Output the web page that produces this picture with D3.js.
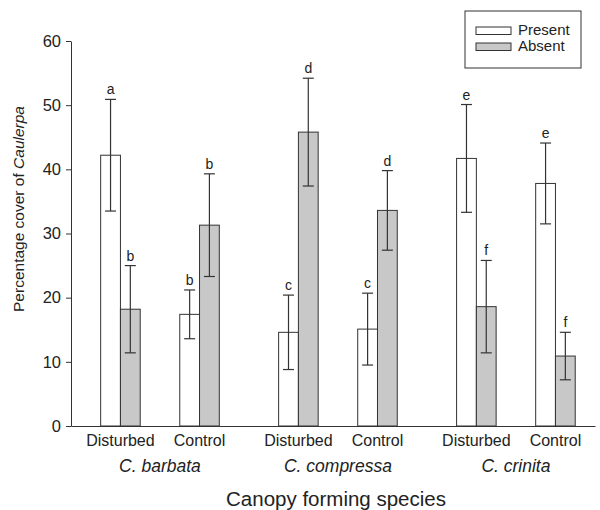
<!DOCTYPE html>
<html>
<head>
<meta charset="utf-8">
<script src="https://cdn.jsdelivr.net/npm/d3@7"></script>
<style>
  html, body { margin: 0; padding: 0; background: #fff; overflow: hidden; }
  svg { display: block; }
  svg text { font-family: "Liberation Sans", Arial, sans-serif; fill: #222; }
</style>
</head>
<body>
<svg id="chart"></svg>
<script>
const species = ["C. barbata", "C. compressa", "C. crinita"];
const treatments = ["Disturbed", "Control"];
const canopy = ["Present", "Absent"];

// one value per species x treatment, in order
const presentMean = [42.2, 17.4, 14.6, 15.1, 41.7, 37.8];
const presentErr = [8.7, 3.8, 5.8, 5.6, 8.4, 6.3];
const presentLetter = ["a", "b", "c", "c", "e", "e"];
const absentMean = [18.2, 31.3, 45.8, 33.6, 18.6, 10.9];
const absentErr = [6.8, 8.0, 8.4, 6.2, 7.2, 3.7];
const absentLetter = ["b", "b", "d", "d", "f", "f"];

const yTicks = [0, 10, 20, 30, 40, 50, 60];

const width = 600, height = 510;
const margin = { top: 41, left: 71, bottom: 84, right: 5 };
const innerWidth = width - margin.left - margin.right;
const innerHeight = height - margin.top - margin.bottom;

const svg = d3.select("#chart").attr("width", width).attr("height", height);
const g = svg.append("g").attr("transform", `translate(${margin.left}, ${margin.top})`);

// group position: 4 units per treatment pair, 1 extra unit between species
const groups = [];
species.forEach((s, si) => {
  treatments.forEach((t, ti) => {
    const i = si * treatments.length + ti;
    groups.push({ species: s, treatment: t, pos: 2.5 + 4 * i + si, i });
  });
});

const x = d3.scaleLinear().domain([0, 26.5]).range([0, innerWidth]);
const y = d3.scaleLinear().domain([0, 60]).range([innerHeight, 0]);
const fill = d3.scaleOrdinal().domain(canopy).range(["#ffffff", "#c8c8c8"]);

// y axis
const yAxis = g.append("g")
  .call(d3.axisLeft(y).tickValues(yTicks).tickSize(5).tickSizeOuter(0).tickPadding(5));
yAxis.selectAll("text").style("font-size", "16.5px").attr("fill", "#222");
yAxis.selectAll("line, path").attr("stroke", "#333");

// x axis line only
const xAxis = g.append("g")
  .attr("transform", `translate(0, ${innerHeight})`)
  .call(d3.axisBottom(x).ticks(0).tickSizeOuter(0));
xAxis.select("path").attr("stroke", "#333");

// bars
const bars = [];
groups.forEach(d => {
  bars.push({ key: "Present", x0: d.pos - 1, mean: presentMean[d.i], err: presentErr[d.i], letter: presentLetter[d.i] });
  bars.push({ key: "Absent", x0: d.pos, mean: absentMean[d.i], err: absentErr[d.i], letter: absentLetter[d.i] });
});

g.selectAll(".bar")
  .data(bars)
  .join("rect")
  .attr("class", "bar")
  .attr("x", d => x(d.x0))
  .attr("y", d => y(d.mean))
  .attr("width", d => x(d.x0 + 1) - x(d.x0))
  .attr("height", d => y(0) - y(d.mean))
  .attr("fill", d => fill(d.key))
  .attr("stroke", "#333")
  .attr("stroke-width", 1);

// error bars
const capHalf = 5.5;
const eb = g.selectAll(".err").data(bars).join("g").attr("class", "err")
  .attr("stroke", "#333").attr("stroke-width", 1.2);
eb.append("line")
  .attr("x1", d => x(d.x0 + 0.5)).attr("x2", d => x(d.x0 + 0.5))
  .attr("y1", d => y(d.mean - d.err)).attr("y2", d => y(d.mean + d.err));
eb.append("line")
  .attr("x1", d => x(d.x0 + 0.5) - capHalf).attr("x2", d => x(d.x0 + 0.5) + capHalf)
  .attr("y1", d => y(d.mean + d.err)).attr("y2", d => y(d.mean + d.err));
eb.append("line")
  .attr("x1", d => x(d.x0 + 0.5) - capHalf).attr("x2", d => x(d.x0 + 0.5) + capHalf)
  .attr("y1", d => y(d.mean - d.err)).attr("y2", d => y(d.mean - d.err));

// significance letters
g.selectAll(".letter")
  .data(bars)
  .join("text")
  .attr("class", "letter")
  .attr("x", d => x(d.x0 + 0.5))
  .attr("y", d => y(d.mean + d.err) - 5)
  .attr("text-anchor", "middle")
  .style("font-size", "14px")
  .text(d => d.letter);

// treatment labels
g.selectAll(".treat")
  .data(groups)
  .join("text")
  .attr("class", "treat")
  .attr("x", d => x(d.pos))
  .attr("y", innerHeight + 20)
  .attr("text-anchor", "middle")
  .style("font-size", "16px")
  .text(d => d.treatment);

// species labels
g.selectAll(".species")
  .data(species)
  .join("text")
  .attr("class", "species")
  .attr("x", (s, si) => (x(groups[si * 2].pos) + x(groups[si * 2 + 1].pos)) / 2)
  .attr("y", innerHeight + 46)
  .attr("text-anchor", "middle")
  .style("font-size", "17.5px")
  .style("font-style", "italic")
  .text(s => s);

// axis titles
svg.append("text")
  .attr("x", 336)
  .attr("y", 506)
  .attr("text-anchor", "middle")
  .style("font-size", "20.5px")
  .text("Canopy forming species");

const yTitle = svg.append("text")
  .attr("transform", "translate(24, 209) rotate(-90)")
  .attr("text-anchor", "middle")
  .style("font-size", "15.5px");
yTitle.append("tspan").text("Percentage cover of ");
yTitle.append("tspan").style("font-style", "italic").text("Caulerpa");

// legend
const legend = svg.append("g").attr("transform", "translate(465, 11)");
legend.append("rect")
  .attr("width", 116).attr("height", 57)
  .attr("fill", "#fff").attr("stroke", "#333").attr("stroke-width", 1);
const items = legend.selectAll(".item").data(canopy).join("g")
  .attr("class", "item")
  .attr("transform", (d, i) => `translate(11, ${16 + i * 16})`);
items.append("rect")
  .attr("width", 35).attr("height", 7.5)
  .attr("fill", d => fill(d)).attr("stroke", "#333").attr("stroke-width", 1);
items.append("text")
  .attr("x", 42).attr("y", 8)
  .style("font-size", "15px")
  .text(d => d);
</script>
</body>
</html>
